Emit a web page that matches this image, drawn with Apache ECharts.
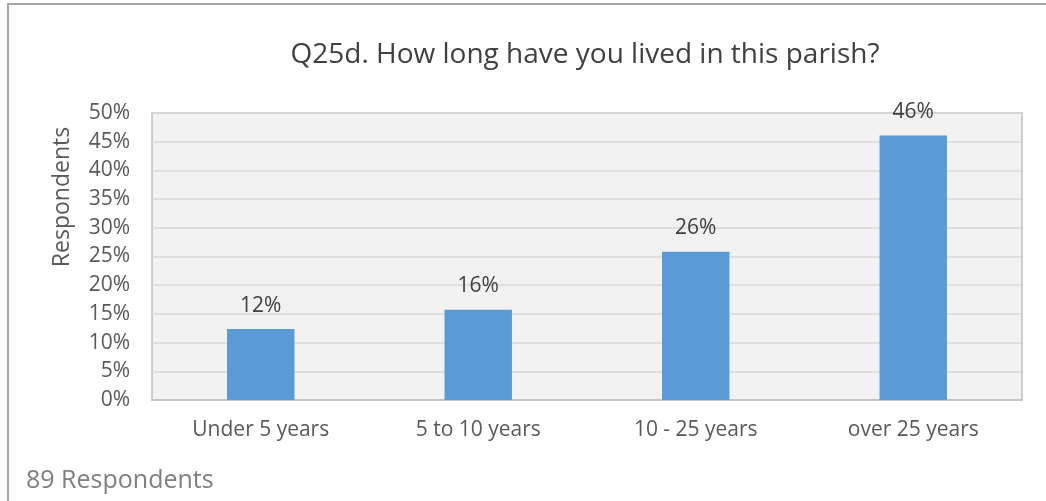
<!DOCTYPE html>
<html>
<head>
<meta charset="utf-8">
<script src="https://cdn.jsdelivr.net/npm/echarts@6/dist/echarts.min.js"></script>
<style>
  html, body { margin: 0; padding: 0; background: #ffffff; }
  #chart { width: 1046px; height: 501px; }
</style>
</head>
<body>
<div id="chart"></div>
<script>
// Survey answers: how long respondents have lived in the parish
const categories = ['Under 5 years', '5 to 10 years', '10 - 25 years', 'over 25 years'];
const counts = [11, 14, 23, 41];
const totalRespondents = 89;
const yTicks = [0, 5, 10, 15, 20, 25, 30, 35, 40, 45, 50];

const shares = counts.map(c => c / totalRespondents * 100);

const FONT = '"Open Sans", "Noto Sans", sans-serif';

const chart = echarts.init(document.getElementById('chart'), null, { renderer: 'canvas' });

chart.setOption({
  backgroundColor: '#ffffff',
  animation: false,
  title: {
    text: 'Q25d. How long have you lived in this parish?',
    left: 580,
    top: 36,
    textAlign: 'center',
    textStyle: { fontFamily: FONT, fontSize: 28, fontWeight: 'normal', color: '#404040' }
  },
  grid: {
    left: 152, right: 24, top: 113, bottom: 101,
    show: true,
    backgroundColor: '#f2f2f2',
    borderColor: '#c0c0c0',
    borderWidth: 1.5
  },
  xAxis: {
    type: 'category',
    data: categories,
    axisTick: { show: false },
    axisLine: { show: true, lineStyle: { color: '#bfbfbf', width: 1.5 } },
    axisLabel: { fontFamily: FONT, fontSize: 21, color: '#595959', margin: 20 }
  },
  yAxis: {
    type: 'value',
    min: yTicks[0],
    max: yTicks[yTicks.length - 1],
    interval: yTicks[1] - yTicks[0],
    axisLine: { show: false },
    axisTick: { show: false },
    splitLine: { lineStyle: { color: '#d9d9d9', width: 1.5 } },
    axisLabel: {
      fontFamily: FONT, fontSize: 21, color: '#595959', margin: 22,
      formatter: v => v + '%'
    }
  },
  series: [{
    type: 'bar',
    data: shares,
    barWidth: '31%',
    itemStyle: { color: '#5b9bd5' },
    label: {
      show: true,
      position: 'top',
      distance: 13,
      fontFamily: FONT,
      fontSize: 21,
      color: '#404040',
      formatter: p => Math.round(p.value) + '%'
    }
  }],
  graphic: [
    {
      type: 'rect',
      shape: { x: 8, y: 4, width: 1100, height: 600 },
      style: { fill: 'none', stroke: '#a6a6a6', lineWidth: 2 },
      silent: true
    },
    {
      type: 'text',
      x: 62, y: 197,
      rotation: Math.PI / 2,
      style: {
        text: 'Respondents',
        fontFamily: FONT, fontSize: 23,
        fill: '#595959',
        textAlign: 'center',
        textVerticalAlign: 'middle'
      }
    },
    {
      type: 'text',
      x: 26, y: 481,
      style: {
        text: totalRespondents + ' Respondents',
        fontFamily: FONT, fontSize: 25,
        fill: '#7f7f7f',
        textAlign: 'left',
        textVerticalAlign: 'middle'
      }
    }
  ]
});
</script>
</body>
</html>
